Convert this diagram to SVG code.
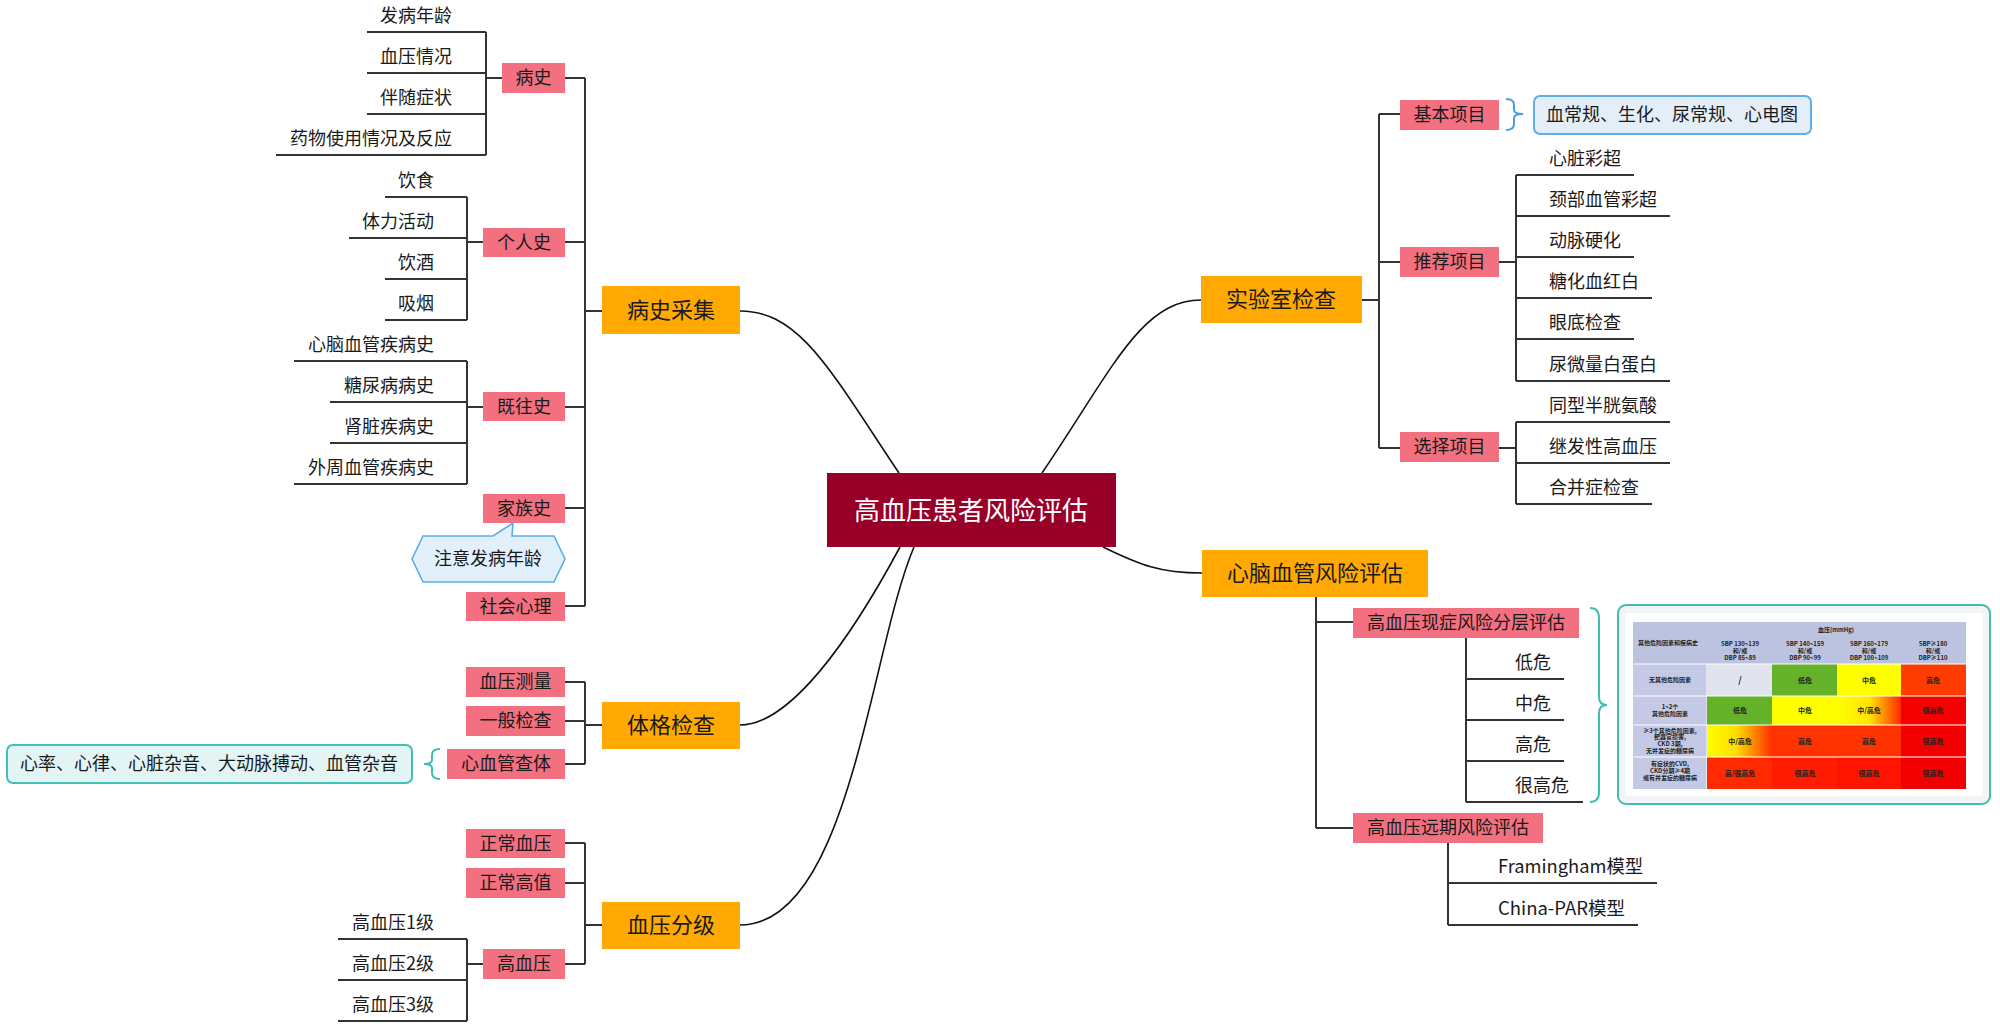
<svg xmlns="http://www.w3.org/2000/svg" width="2000" height="1028" viewBox="0 0 2000 1028">
<defs>
<style>
text{font-family:"Noto Sans CJK SC","Microsoft YaHei","Noto Sans",sans-serif;fill:#1a1a1a}
.root rect{fill:#98002a}
.root text{fill:#ffffff;font-size:26px;text-anchor:middle}
.main rect{fill:#ffa902}
.main text{font-size:22px;text-anchor:middle}
.sub rect{fill:#f2707f}
.sub text{font-size:18px;text-anchor:middle}
.leaf text{font-size:18px}
.leaf line{stroke:#333;stroke-width:2}
.lr text{text-anchor:end}
.conn path,.conn line{stroke:#333;stroke-width:2;fill:none}
.conn .curve{stroke:#111;stroke-width:1.6}
.brace{fill:none;stroke-width:2}
.tbl text{font-size:6px;font-weight:bold;text-anchor:middle;fill:#222}
.tbl .lab{fill:#c4c9e5}
</style>
<linearGradient id="g1" x1="0" y1="0" x2="1" y2="0">
<stop offset="0" stop-color="#ffff00"/><stop offset="0.5" stop-color="#ffe600"/><stop offset="1" stop-color="#ff2a00"/>
</linearGradient>
<linearGradient id="g2" x1="0" y1="0" x2="1" y2="0">
<stop offset="0" stop-color="#ffff00"/><stop offset="0.45" stop-color="#ffdd00"/><stop offset="1" stop-color="#ff3000"/>
</linearGradient>
</defs>
<rect width="2000" height="1028" fill="#ffffff"/>

<g id="connectors" class="conn">
<path class="curve" d="M740,311 C800,311 830,370 899,473"/>
<path class="curve" d="M1201,300 C1141,300 1112,370 1042,473"/>
<path class="curve" d="M740,725 C790,725 850,640 900,547"/>
<path class="curve" d="M740,925 C850,925 870,650 914,547"/>
<path class="curve" d="M1103,547 C1140,565 1160,573 1202,573"/>
<!-- 病史采集 trunk -->
<line x1="585" y1="78" x2="585" y2="606"/>
<line x1="565" y1="78" x2="585" y2="78"/>
<line x1="565" y1="242" x2="585" y2="242"/>
<line x1="565" y1="407" x2="585" y2="407"/>
<line x1="565" y1="508" x2="585" y2="508"/>
<line x1="565" y1="606" x2="585" y2="606"/>
<line x1="585" y1="311" x2="602" y2="311"/>
<!-- 体格检查 trunk -->
<line x1="585" y1="682" x2="585" y2="764"/>
<line x1="565" y1="682" x2="585" y2="682"/>
<line x1="565" y1="721" x2="585" y2="721"/>
<line x1="565" y1="764" x2="585" y2="764"/>
<line x1="585" y1="725" x2="602" y2="725"/>
<!-- 血压分级 trunk -->
<line x1="585" y1="843" x2="585" y2="964"/>
<line x1="565" y1="843" x2="585" y2="843"/>
<line x1="565" y1="883" x2="585" y2="883"/>
<line x1="565" y1="964" x2="585" y2="964"/>
<line x1="585" y1="925" x2="602" y2="925"/>
<!-- leaf group connectors left -->
<line x1="486" y1="32" x2="486" y2="155"/>
<line x1="486" y1="78" x2="502" y2="78"/>
<line x1="467" y1="197" x2="467" y2="320"/>
<line x1="467" y1="242" x2="483" y2="242"/>
<line x1="467" y1="361" x2="467" y2="484"/>
<line x1="467" y1="407" x2="483" y2="407"/>
<line x1="467" y1="939" x2="467" y2="1021"/>
<line x1="467" y1="964" x2="483" y2="964"/>
<!-- 实验室检查 trunk -->
<line x1="1362" y1="300" x2="1379" y2="300"/>
<line x1="1379" y1="114" x2="1379" y2="448"/>
<line x1="1379" y1="114" x2="1400" y2="114"/>
<line x1="1379" y1="262" x2="1400" y2="262"/>
<line x1="1379" y1="448" x2="1400" y2="448"/>
<line x1="1499" y1="262" x2="1516" y2="262"/>
<line x1="1516" y1="175" x2="1516" y2="381"/>
<line x1="1499" y1="448" x2="1516" y2="448"/>
<line x1="1516" y1="422" x2="1516" y2="504"/>
<!-- 心脑血管 trunk -->
<line x1="1316" y1="597" x2="1316" y2="828"/>
<line x1="1316" y1="622" x2="1353" y2="622"/>
<line x1="1316" y1="828" x2="1353" y2="828"/>
<line x1="1466" y1="638" x2="1466" y2="802"/>
<line x1="1448" y1="843" x2="1448" y2="925"/>
</g>

<g id="root" class="root"><rect x="827" y="473" width="289" height="74"/><text x="971" y="520">高血压患者风险评估</text></g>

<g id="t-bingshi" class="main"><rect x="602" y="286" width="138" height="48"/><text x="671" y="318">病史采集</text></g>
<g id="t-tige" class="main"><rect x="602" y="702" width="138" height="47"/><text x="671" y="733">体格检查</text></g>
<g id="t-xueya" class="main"><rect x="602" y="902" width="138" height="47"/><text x="671" y="933">血压分级</text></g>
<g id="t-shiyan" class="main"><rect x="1201" y="276" width="161" height="47"/><text x="1281" y="307">实验室检查</text></g>
<g id="t-xinnao" class="main"><rect x="1202" y="550" width="226" height="47"/><text x="1315" y="581">心脑血管风险评估</text></g>

<g id="s-bingshi" class="sub"><rect x="502" y="63" width="63" height="30"/><text x="533.5" y="84">病史</text></g>
<g id="s-geren" class="sub"><rect x="483" y="228" width="82" height="29"/><text x="524" y="249">个人史</text></g>
<g id="s-jiwang" class="sub"><rect x="483" y="392" width="82" height="29"/><text x="524" y="413">既往史</text></g>
<g id="s-jiazu" class="sub"><rect x="483" y="494" width="82" height="29"/><text x="524" y="515">家族史</text></g>
<g id="s-shehui" class="sub"><rect x="466" y="592" width="99" height="29"/><text x="515.5" y="613">社会心理</text></g>
<g id="s-celiang" class="sub"><rect x="466" y="667" width="99" height="30"/><text x="515.5" y="688">血压测量</text></g>
<g id="s-yiban" class="sub"><rect x="466" y="706" width="99" height="30"/><text x="515.5" y="727">一般检查</text></g>
<g id="s-chati" class="sub"><rect x="447" y="749" width="118" height="30"/><text x="506" y="770">心血管查体</text></g>
<g id="s-zhengchang" class="sub"><rect x="466" y="829" width="99" height="29"/><text x="515.5" y="850">正常血压</text></g>
<g id="s-gaozhi" class="sub"><rect x="466" y="868" width="99" height="30"/><text x="515.5" y="889">正常高值</text></g>
<g id="s-gaoxueya" class="sub"><rect x="483" y="949" width="82" height="30"/><text x="524" y="970">高血压</text></g>
<g id="s-jiben" class="sub"><rect x="1400" y="100" width="99" height="30"/><text x="1449.5" y="121">基本项目</text></g>
<g id="s-tuijian" class="sub"><rect x="1400" y="247" width="99" height="30"/><text x="1449.5" y="268">推荐项目</text></g>
<g id="s-xuanze" class="sub"><rect x="1400" y="432" width="99" height="30"/><text x="1449.5" y="453">选择项目</text></g>
<g id="s-xianzheng" class="sub"><rect x="1353" y="608" width="226" height="30"/><text x="1466" y="629">高血压现症风险分层评估</text></g>
<g id="s-yuanqi" class="sub"><rect x="1353" y="813" width="190" height="30"/><text x="1448" y="834">高血压远期风险评估</text></g>

<g id="leaves-bingshi" class="leaf lr">
<text x="452" y="22">发病年龄</text><line x1="367" y1="32" x2="486" y2="32"/>
<text x="452" y="63">血压情况</text><line x1="367" y1="73" x2="486" y2="73"/>
<text x="452" y="104">伴随症状</text><line x1="367" y1="114" x2="486" y2="114"/>
<text x="452" y="145">药物使用情况及反应</text><line x1="276" y1="155" x2="486" y2="155"/>
</g>
<g id="leaves-geren" class="leaf lr">
<text x="434" y="187">饮食</text><line x1="385" y1="197" x2="467" y2="197"/>
<text x="434" y="228">体力活动</text><line x1="349" y1="238" x2="467" y2="238"/>
<text x="434" y="269">饮酒</text><line x1="385" y1="279" x2="467" y2="279"/>
<text x="434" y="310">吸烟</text><line x1="385" y1="320" x2="467" y2="320"/>
</g>
<g id="leaves-jiwang" class="leaf lr">
<text x="434" y="351">心脑血管疾病史</text><line x1="294" y1="361" x2="467" y2="361"/>
<text x="434" y="392">糖尿病病史</text><line x1="330" y1="402" x2="467" y2="402"/>
<text x="434" y="433">肾脏疾病史</text><line x1="330" y1="443" x2="467" y2="443"/>
<text x="434" y="474">外周血管疾病史</text><line x1="294" y1="484" x2="467" y2="484"/>
</g>
<g id="leaves-gaoxueya" class="leaf lr">
<text x="434" y="929">高血压1级</text><line x1="338" y1="939" x2="467" y2="939"/>
<text x="434" y="970">高血压2级</text><line x1="338" y1="980" x2="467" y2="980"/>
<text x="434" y="1011">高血压3级</text><line x1="338" y1="1021" x2="467" y2="1021"/>
</g>
<g id="leaves-tuijian" class="leaf">
<text x="1549" y="165">心脏彩超</text><line x1="1516" y1="175" x2="1634" y2="175"/>
<text x="1549" y="206">颈部血管彩超</text><line x1="1516" y1="216" x2="1670" y2="216"/>
<text x="1549" y="247">动脉硬化</text><line x1="1516" y1="257" x2="1634" y2="257"/>
<text x="1549" y="288">糖化血红白</text><line x1="1516" y1="298" x2="1652" y2="298"/>
<text x="1549" y="329">眼底检查</text><line x1="1516" y1="339" x2="1634" y2="339"/>
<text x="1549" y="371">尿微量白蛋白</text><line x1="1516" y1="381" x2="1670" y2="381"/>
</g>
<g id="leaves-xuanze" class="leaf">
<text x="1549" y="412">同型半胱氨酸</text><line x1="1516" y1="422" x2="1670" y2="422"/>
<text x="1549" y="453">继发性高血压</text><line x1="1516" y1="463" x2="1670" y2="463"/>
<text x="1549" y="494">合并症检查</text><line x1="1516" y1="504" x2="1652" y2="504"/>
</g>
<g id="leaves-xianzheng" class="leaf">
<text x="1515" y="669">低危</text><line x1="1466" y1="679" x2="1564" y2="679"/>
<text x="1515" y="710">中危</text><line x1="1466" y1="720" x2="1564" y2="720"/>
<text x="1515" y="751">高危</text><line x1="1466" y1="761" x2="1564" y2="761"/>
<text x="1515" y="792">很高危</text><line x1="1466" y1="802" x2="1583" y2="802"/>
</g>
<g id="leaves-yuanqi" class="leaf">
<text x="1498" y="873" textLength="145" lengthAdjust="spacingAndGlyphs">Framingham模型</text><line x1="1448" y1="883" x2="1657" y2="883"/>
<text x="1498" y="915" textLength="127" lengthAdjust="spacingAndGlyphs">China-PAR模型</text><line x1="1448" y1="925" x2="1638" y2="925"/>
</g>

<g id="note-nianling">
<polygon points="423,536 493,536 513,523 512,536 554,536 565,559 554,582 423,582 412,559" fill="#e2f0fb" stroke="#5aaee8" stroke-width="1.6"/>
<text x="488" y="565" style="font-size:18px;text-anchor:middle">注意发病年龄</text>
</g>

<g id="summary-chati">
<path class="brace" stroke="#3cbfb3" d="M440,749 Q432,749 432,755 L432,760 Q432,764 424,764 Q432,764 432,768 L432,773 Q432,779 440,779"/>
<rect x="7" y="745" width="405" height="38" rx="6" fill="#e2f4f3" stroke="#40c0b5" stroke-width="2"/>
<text x="209" y="770" style="font-size:18px;text-anchor:middle">心率、心律、心脏杂音、大动脉搏动、血管杂音</text>
</g>

<g id="summary-jiben">
<path class="brace" stroke="#4a9fe0" d="M1506,99 Q1514,99 1514,105 L1514,110 Q1514,114 1523,114 Q1514,114 1514,118 L1514,124 Q1514,130 1506,130"/>
<rect x="1534" y="96" width="277" height="38" rx="6" fill="#e4eef9" stroke="#5fb0ea" stroke-width="2"/>
<text x="1672" y="121" style="font-size:18px;text-anchor:middle">血常规、生化、尿常规、心电图</text>
</g>

<g id="summary-table" class="tbl">
<path class="brace" stroke="#3cbfb3" d="M1590,608 Q1599,608 1599,618 L1599,697 Q1599,705 1607,705 Q1599,705 1599,713 L1599,792 Q1599,802 1590,802"/>
<rect x="1618" y="605" width="372" height="199" rx="8" fill="#f1f5f5" stroke="#45bcb0" stroke-width="2"/>
<rect x="1625" y="613" width="358" height="183" fill="#ffffff"/>
<rect x="1633" y="622" width="333" height="41.5" fill="#bcc3e0"/>
<rect class="lab" x="1633" y="664.5" width="73.5" height="31"/>
<rect class="lab" x="1633" y="696.5" width="73.5" height="28"/>
<rect class="lab" x="1633" y="725.5" width="73.5" height="31"/>
<rect class="lab" x="1633" y="757.5" width="73.5" height="31.5"/>
<rect x="1707" y="664.5" width="65" height="31" fill="#e1e3ee"/>
<rect x="1772" y="664.5" width="65" height="31" fill="#64b22a"/>
<rect x="1837" y="664.5" width="64" height="31" fill="#ffff00"/>
<rect x="1901" y="664.5" width="65" height="31" fill="#ff3c00"/>
<rect x="1707" y="696.5" width="65" height="28" fill="#64b22a"/>
<rect x="1772" y="696.5" width="65" height="28" fill="#ffff00"/>
<rect x="1837" y="696.5" width="64" height="28" fill="url(#g1)"/>
<rect x="1901" y="696.5" width="65" height="28" fill="#f40000"/>
<rect x="1707" y="725.5" width="65" height="31" fill="url(#g2)"/>
<rect x="1772" y="725.5" width="65" height="31" fill="#ff3300"/>
<rect x="1837" y="725.5" width="64" height="31" fill="#ff3300"/>
<rect x="1901" y="725.5" width="65" height="31" fill="#f20000"/>
<rect x="1707" y="757.5" width="65" height="31.5" fill="#ff2a00"/>
<rect x="1772" y="757.5" width="65" height="31.5" fill="#ff1c00"/>
<rect x="1837" y="757.5" width="64" height="31.5" fill="#ff1400"/>
<rect x="1901" y="757.5" width="65" height="31.5" fill="#f20000"/>
<text x="1836" y="632">血压(mmHg)</text>
<text x="1668" y="645">其他危险因素和疾病史</text>
<text x="1740" y="646">SBP 130~139</text><text x="1740" y="653">和/或</text><text x="1740" y="660">DBP 85~89</text>
<text x="1805" y="646">SBP 140~159</text><text x="1805" y="653">和/或</text><text x="1805" y="660">DBP 90~99</text>
<text x="1869" y="646">SBP 160~179</text><text x="1869" y="653">和/或</text><text x="1869" y="660">DBP 100~109</text>
<text x="1933" y="646">SBP≥180</text><text x="1933" y="653">和/或</text><text x="1933" y="660">DBP≥110</text>
<text x="1670" y="682">无其他危险因素</text>
<text x="1670" y="709">1~2个</text><text x="1670" y="716">其他危险因素</text>
<text x="1670" y="733">≥3个其他危险因素,</text><text x="1670" y="739">靶器官损害,</text><text x="1670" y="746">CKD 3期,</text><text x="1670" y="753">无并发症的糖尿病</text>
<text x="1670" y="766">有症状的CVD,</text><text x="1670" y="773">CKD分期≥4期</text><text x="1670" y="780">或有并发症的糖尿病</text>
<text x="1740" y="683" style="font-size:9px">/</text>
<text x="1805" y="683" style="font-size:7px">低危</text>
<text x="1869" y="683" style="font-size:7px">中危</text>
<text x="1933" y="683" style="font-size:7px">高危</text>
<text x="1740" y="713" style="font-size:7px">低危</text>
<text x="1805" y="713" style="font-size:7px">中危</text>
<text x="1869" y="713" style="font-size:7px">中/高危</text>
<text x="1933" y="713" style="font-size:7px">很高危</text>
<text x="1740" y="744" style="font-size:7px">中/高危</text>
<text x="1805" y="744" style="font-size:7px">高危</text>
<text x="1869" y="744" style="font-size:7px">高危</text>
<text x="1933" y="744" style="font-size:7px">很高危</text>
<text x="1740" y="776" style="font-size:7px">高/很高危</text>
<text x="1805" y="776" style="font-size:7px">很高危</text>
<text x="1869" y="776" style="font-size:7px">很高危</text>
<text x="1933" y="776" style="font-size:7px">很高危</text>
</g>
</svg>
